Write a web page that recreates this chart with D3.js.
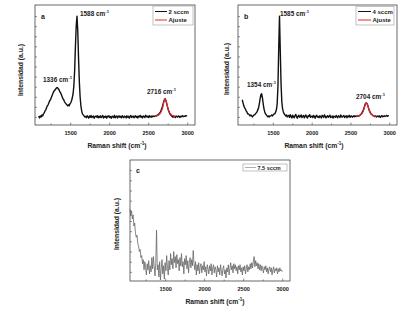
<!DOCTYPE html>
<html><head><meta charset="utf-8">
<script src="https://cdn.jsdelivr.net/npm/d3@7"></script>
<style>
html,body{margin:0;padding:0;background:#fff;}
svg{display:block;font-family:"Liberation Sans",Arial,sans-serif;font-weight:bold;}
</style></head>
<body>
<script>
// ---------------- DATA ----------------
const xTicks = [1500, 2000, 2500, 3000];
const xMinorTicks = [1250, 1750, 2250, 2750];

// Panel a: 2 sccm (grid 1098..2998 step 10)
const shiftA = d3.range(1098, 3000, 10);
const intA = [
 1,-1,1,0,2,1,3,4,6,7,
 9,11,12,14,16,17,19,21,23,25,
 26,27,28,29,29,28,27,25,24,22,
 20,18,17,15,14,13,12,11,12,11,
 13,14,16,19,23,31,46,70,90,100,
 85,58,35,20,11,6,3,2,1,0,
 0.5,-0.8,1.2,0.3,-1.1,0.9,-0.4,1.5,-0.6,0.2,
 1.0,-1.3,0.4,0.8,-0.2,1.3,-0.9,0.6,-0.5,1.1,
 -0.7,0.3,1.4,-1.0,0.5,-0.3,0.9,-1.2,0.7,0.1,
 1.2,-0.6,0.4,-1.4,0.8,0.2,-0.5,1.6,-0.8,0.3,
 0.9,-1.1,0.5,1.0,-0.4,0.6,-0.9,1.3,0.0,-0.7,
 0.8,0.4,-1.0,1.1,-0.3,0.7,-1.2,0.5,1.4,-0.6,
 0.2,0.9,-0.8,0.3,1.2,-0.5,0.6,-1.0,0.8,0.1,
 1.5,-0.4,0.7,-0.9,1.0,0.3,-0.6,1.8,0.4,-0.2,
 0.9,-0.7,1.2,0.5,-0.3,1.0,0.2,0.8,0.4,0.9,
 1,1,2,2,3,4,5,7,9,12,15,17,18,16,13,10,7,5,3,2,1,
 0.5,-0.4,0.8,0.1,-0.6,0.9,0.3,-0.2,1.0,0.4,
 -0.5,0.7,0.2,1.1,0.3,0.8,0.6,1.2,0.9,1.4
];
const shiftFitA = d3.range(2588, 2850, 10);
const fitA = [0.6,0.8,1.0,1.3,1.7,2.2,2.9,3.9,5.3,7.3,10.1,13.6,16.6,17.9,16.6,13.6,10.1,7.3,5.3,3.9,2.9,2.2,1.7,1.3,1.0,0.8,0.6];

// Panel b: 4 sccm (grid 1105..2995 step 10)
const shiftB = d3.range(1105, 3000, 10);
const intB = [
 17,14,11,9,8,6,5,3,3,2,
 1,2,1,0,1,2,2,3,4,5,
 7,9,13,18,22,23,19,13,8,5,
 3,2,1,0,1,0,1,1,2,1,
 2,3,3,5,7,13,30,68,100,66,
 33,15,8,5,3,2,1,2,0,1,
 1.5,-0.5,2.2,0.4,-1.0,1.8,0.2,-0.8,1.3,2.5,
 0.1,-1.2,0.9,1.6,-0.3,0.7,2.0,-0.6,0.5,1.4,
 -0.9,0.8,1.9,0.0,-1.1,1.2,0.6,2.3,-0.4,0.3,
 1.0,-0.7,1.5,0.2,-1.3,0.9,1.7,-0.2,0.4,-0.8,
 1.1,0.3,-1.0,1.6,0.5,-0.5,2.1,0.7,-0.9,0.2,
 1.3,-0.4,0.6,1.8,-0.7,0.1,1.0,-1.2,0.8,0.4,
 -0.3,1.5,0.2,-0.9,1.1,0.6,-0.5,1.9,0.3,-0.2,
 0.8,1.4,-0.6,0.5,1.2,-0.8,0.9,0.1,1.6,-0.4,
 0.7,1.0,-0.3,0.5,1.3,0.2,0.9,0.4,1.1,0.6,
 1,1,2,2.5,3.5,5,6.5,9,11.5,13.5,14,13,11,8.5,6,4.5,3,2.5,1.5,1,
 0.8,0.3,1.2,-0.2,0.6,1.0,0.1,0.9,-0.4,0.7,
 1.3,0.2,0.5,1.1,0.4,0.9,1.5,0.6,1.2,1.0
];
const shiftFitB = d3.range(2575, 2840, 10);
const fitB = [0.5,0.6,0.8,1.0,1.3,1.7,2.3,3.0,4.1,5.7,7.9,10.6,13.0,14.0,13.0,10.6,7.9,5.7,4.1,3.0,2.3,1.7,1.3,1.0,0.8,0.6,0.5];

// Panel c: 7.5 sccm (grid 1050..3000 step 10)
const shiftC = d3.range(1050, 3001, 10);
const intC = [
 62,55,60,52,56,45,48,38,34,36,
 28,25,20,22,14,16,8,12,2,10,
 4,-3,8,2,11,-2,6,0,14,3,
 15,5,-4,8,41,2,7,-5,10,-8,
 3,12,-2,6,-7,9,1,16,4,-3,
 11,2,18,7,13,3,20,9,15,4,
 17,8,12,1,14,6,18,5,10,-2,
 13,7,16,3,11,-1,9,14,4,12,
 6,21,8,2,10,-3,7,1,9,-2,
 5,8,-1,6,2,10,0,5,-4,7,
 3,-2,6,1,8,-3,4,7,-1,5,
 2,-5,6,0,4,-3,7,1,-4,3,
 6,-2,2,-6,4,0,7,-3,3,9,
 2,6,-1,8,3,7,1,5,-2,6,
 2,7,0,4,-3,5,1,6,-2,3,
 7,0,5,2,8,3,9,4,10,15,
 5,11,6,9,3,8,2,7,1,6,
 3,-1,5,2,6,0,4,-2,3,5,
 0,4,-3,2,5,-1,3,1,4,-2,
 3,0,4,1,2,0
];

const labelsA = [{t:"1336 cm", x:1336, v:29}, {t:"1588 cm", x:1588, v:100}, {t:"2716 cm", x:2716, v:18}];
const labelsB = [{t:"1354 cm", x:1354, v:23}, {t:"1585 cm", x:1585, v:100}, {t:"2704 cm", x:2704, v:14}];

// ---------------- DRAW ----------------
const W = 405, H = 313;
const svg = d3.select("body").append("svg").attr("width", W).attr("height", H);

function panel(opt) {
  const x = d3.scaleLinear([1050, 3100], [opt.x0, opt.x1]);
  const y = d3.scaleLinear(opt.yDom, [opt.y1, opt.y0]);
  const g = svg.append("g");

  const gx = g.append("g").attr("transform", `translate(0,${opt.y1})`)
    .call(d3.axisBottom(x).tickValues(xTicks).tickSize(-2.5).tickPadding(6).tickFormat(d3.format("d")));
  gx.select(".domain").remove();
  gx.selectAll("text").attr("font-size", 5.6).attr("fill", "#222").attr("font-family", "Liberation Sans, Arial, sans-serif").attr("font-weight", "bold");
  gx.selectAll("line").attr("stroke", "#444").attr("stroke-width", 0.6);
  const gxm = g.append("g").attr("transform", `translate(0,${opt.y1})`)
    .call(d3.axisBottom(x).tickValues(xMinorTicks).tickSize(-1.5).tickFormat(""));
  gxm.select(".domain").remove();
  gxm.selectAll("line").attr("stroke", "#444").attr("stroke-width", 0.6);

  const gy = g.append("g").attr("transform", `translate(${opt.x0},0)`)
    .call(d3.axisLeft(y).tickValues(d3.range(0, 101, 10)).tickSize(-2).tickFormat(""));
  gy.select(".domain").remove();
  gy.selectAll("line").attr("stroke", "#444").attr("stroke-width", 0.6);

  g.append("rect").attr("x", opt.x0).attr("y", opt.y0)
    .attr("width", opt.x1 - opt.x0).attr("height", opt.y1 - opt.y0)
    .attr("fill", "none").attr("stroke", "#444").attr("stroke-width", 0.8);

  const line = d3.line().x(d => x(d[0])).y(d => y(d[1]));
  g.append("path").datum(d3.zip(opt.sx, opt.sy))
    .attr("d", line).attr("fill", "none")
    .attr("stroke", opt.color).attr("stroke-width", opt.lw).attr("stroke-linejoin", "round");
  if (opt.fx) {
    g.append("path").datum(d3.zip(opt.fx, opt.fy))
      .attr("d", line).attr("fill", "none")
      .attr("stroke", "#e8262b").attr("stroke-width", 1.2);
  }

  const xt = g.append("text").attr("x", opt.xtX).attr("y", opt.xtY)
    .attr("text-anchor", "middle").attr("font-size", 6.8).attr("fill", "#222");
  xt.append("tspan").text("Raman shift (cm");
  xt.append("tspan").attr("font-size", 4.6).attr("dy", -2.6).text("-1");
  xt.append("tspan").attr("dy", 2.6).text(")");

  g.append("text").attr("transform", `translate(${opt.ytX},${opt.ytY}) rotate(-90)`)
    .attr("text-anchor", "middle").attr("font-size", 6.8).attr("fill", "#222")
    .text("Intensidad (a.u.)");

  g.append("text").attr("x", opt.letterX).attr("y", opt.letterY)
    .attr("font-size", 7).attr("fill", "#222").text(opt.letter);

  (opt.labels || []).forEach((l, i) => {
    const t = g.append("text").attr("x", opt.labelPos[i][0]).attr("y", opt.labelPos[i][1])
      .attr("font-size", 6.4).attr("fill", "#222");
    t.append("tspan").text(l.t);
    t.append("tspan").attr("font-size", 4.2).attr("dy", -2.6).text("-1");
  });

  const lg = g.append("g");
  lg.append("rect").attr("x", opt.leg.x).attr("y", opt.leg.y).attr("width", opt.leg.w).attr("height", opt.leg.h)
    .attr("fill", "#fff").attr("stroke", "#999").attr("stroke-width", 0.6);
  opt.leg.items.forEach((it, i) => {
    const yy = opt.leg.y + opt.leg.rowY[i];
    lg.append("line").attr("x1", opt.leg.x + 2).attr("x2", opt.leg.x + opt.leg.lineW)
      .attr("y1", yy).attr("y2", yy).attr("stroke", it.c).attr("stroke-width", it.w);
    lg.append("text").attr("x", opt.leg.x + opt.leg.lineW + 1.5).attr("y", yy + 2)
      .attr("font-size", opt.leg.fs).attr("fill", "#222").text(it.t);
  });
}

panel({
  x0: 35, x1: 195, y0: 5, y1: 125, yDom: [-8, 111],
  sx: shiftA, sy: intA, color: "#111", lw: 1.4, fx: shiftFitA, fy: fitA,
  xtX: 117, xtY: 147.5, ytX: 22.5, ytY: 70,
  letter: "a", letterX: 41, letterY: 18.5,
  labels: labelsA, labelPos: [[43, 81.5], [80, 15.5], [147, 93.5]],
  leg: { x: 153, y: 6, w: 40, h: 19, lineW: 14, fs: 6, rowY: [5.5, 14],
    items: [{t: "2 sccm", c: "#111", w: 1}, {t: "Ajuste", c: "#e8262b", w: 1}] }
});

panel({
  x0: 238, x1: 397, y0: 5, y1: 125, yDom: [-8, 111],
  sx: shiftB, sy: intB, color: "#111", lw: 1.4, fx: shiftFitB, fy: fitB,
  xtX: 314, xtY: 147.5, ytX: 228.5, ytY: 69,
  letter: "b", letterX: 244, letterY: 18.5,
  labels: labelsB, labelPos: [[247, 86.5], [280, 15.5], [356, 98.5]],
  leg: { x: 356, y: 6.5, w: 38, h: 18.5, lineW: 15, fs: 6, rowY: [5, 13.5],
    items: [{t: "4 sccm", c: "#111", w: 1}, {t: "Ajuste", c: "#e8262b", w: 1}] }
});

panel({
  x0: 130, x1: 290, y0: 160, y1: 281, yDom: [-9, 110],
  sx: shiftC, sy: intC, color: "#666", lw: 0.8,
  xtX: 215, xtY: 304, ytX: 118.5, ytY: 224,
  letter: "c", letterX: 136, letterY: 172.5,
  labels: [], labelPos: [],
  leg: { x: 243, y: 164, w: 44, h: 7, lineW: 13, fs: 5.5, rowY: [3.5],
    items: [{t: "7.5 sccm", c: "#999", w: 0.8}] }
});
</script>
</body></html>
